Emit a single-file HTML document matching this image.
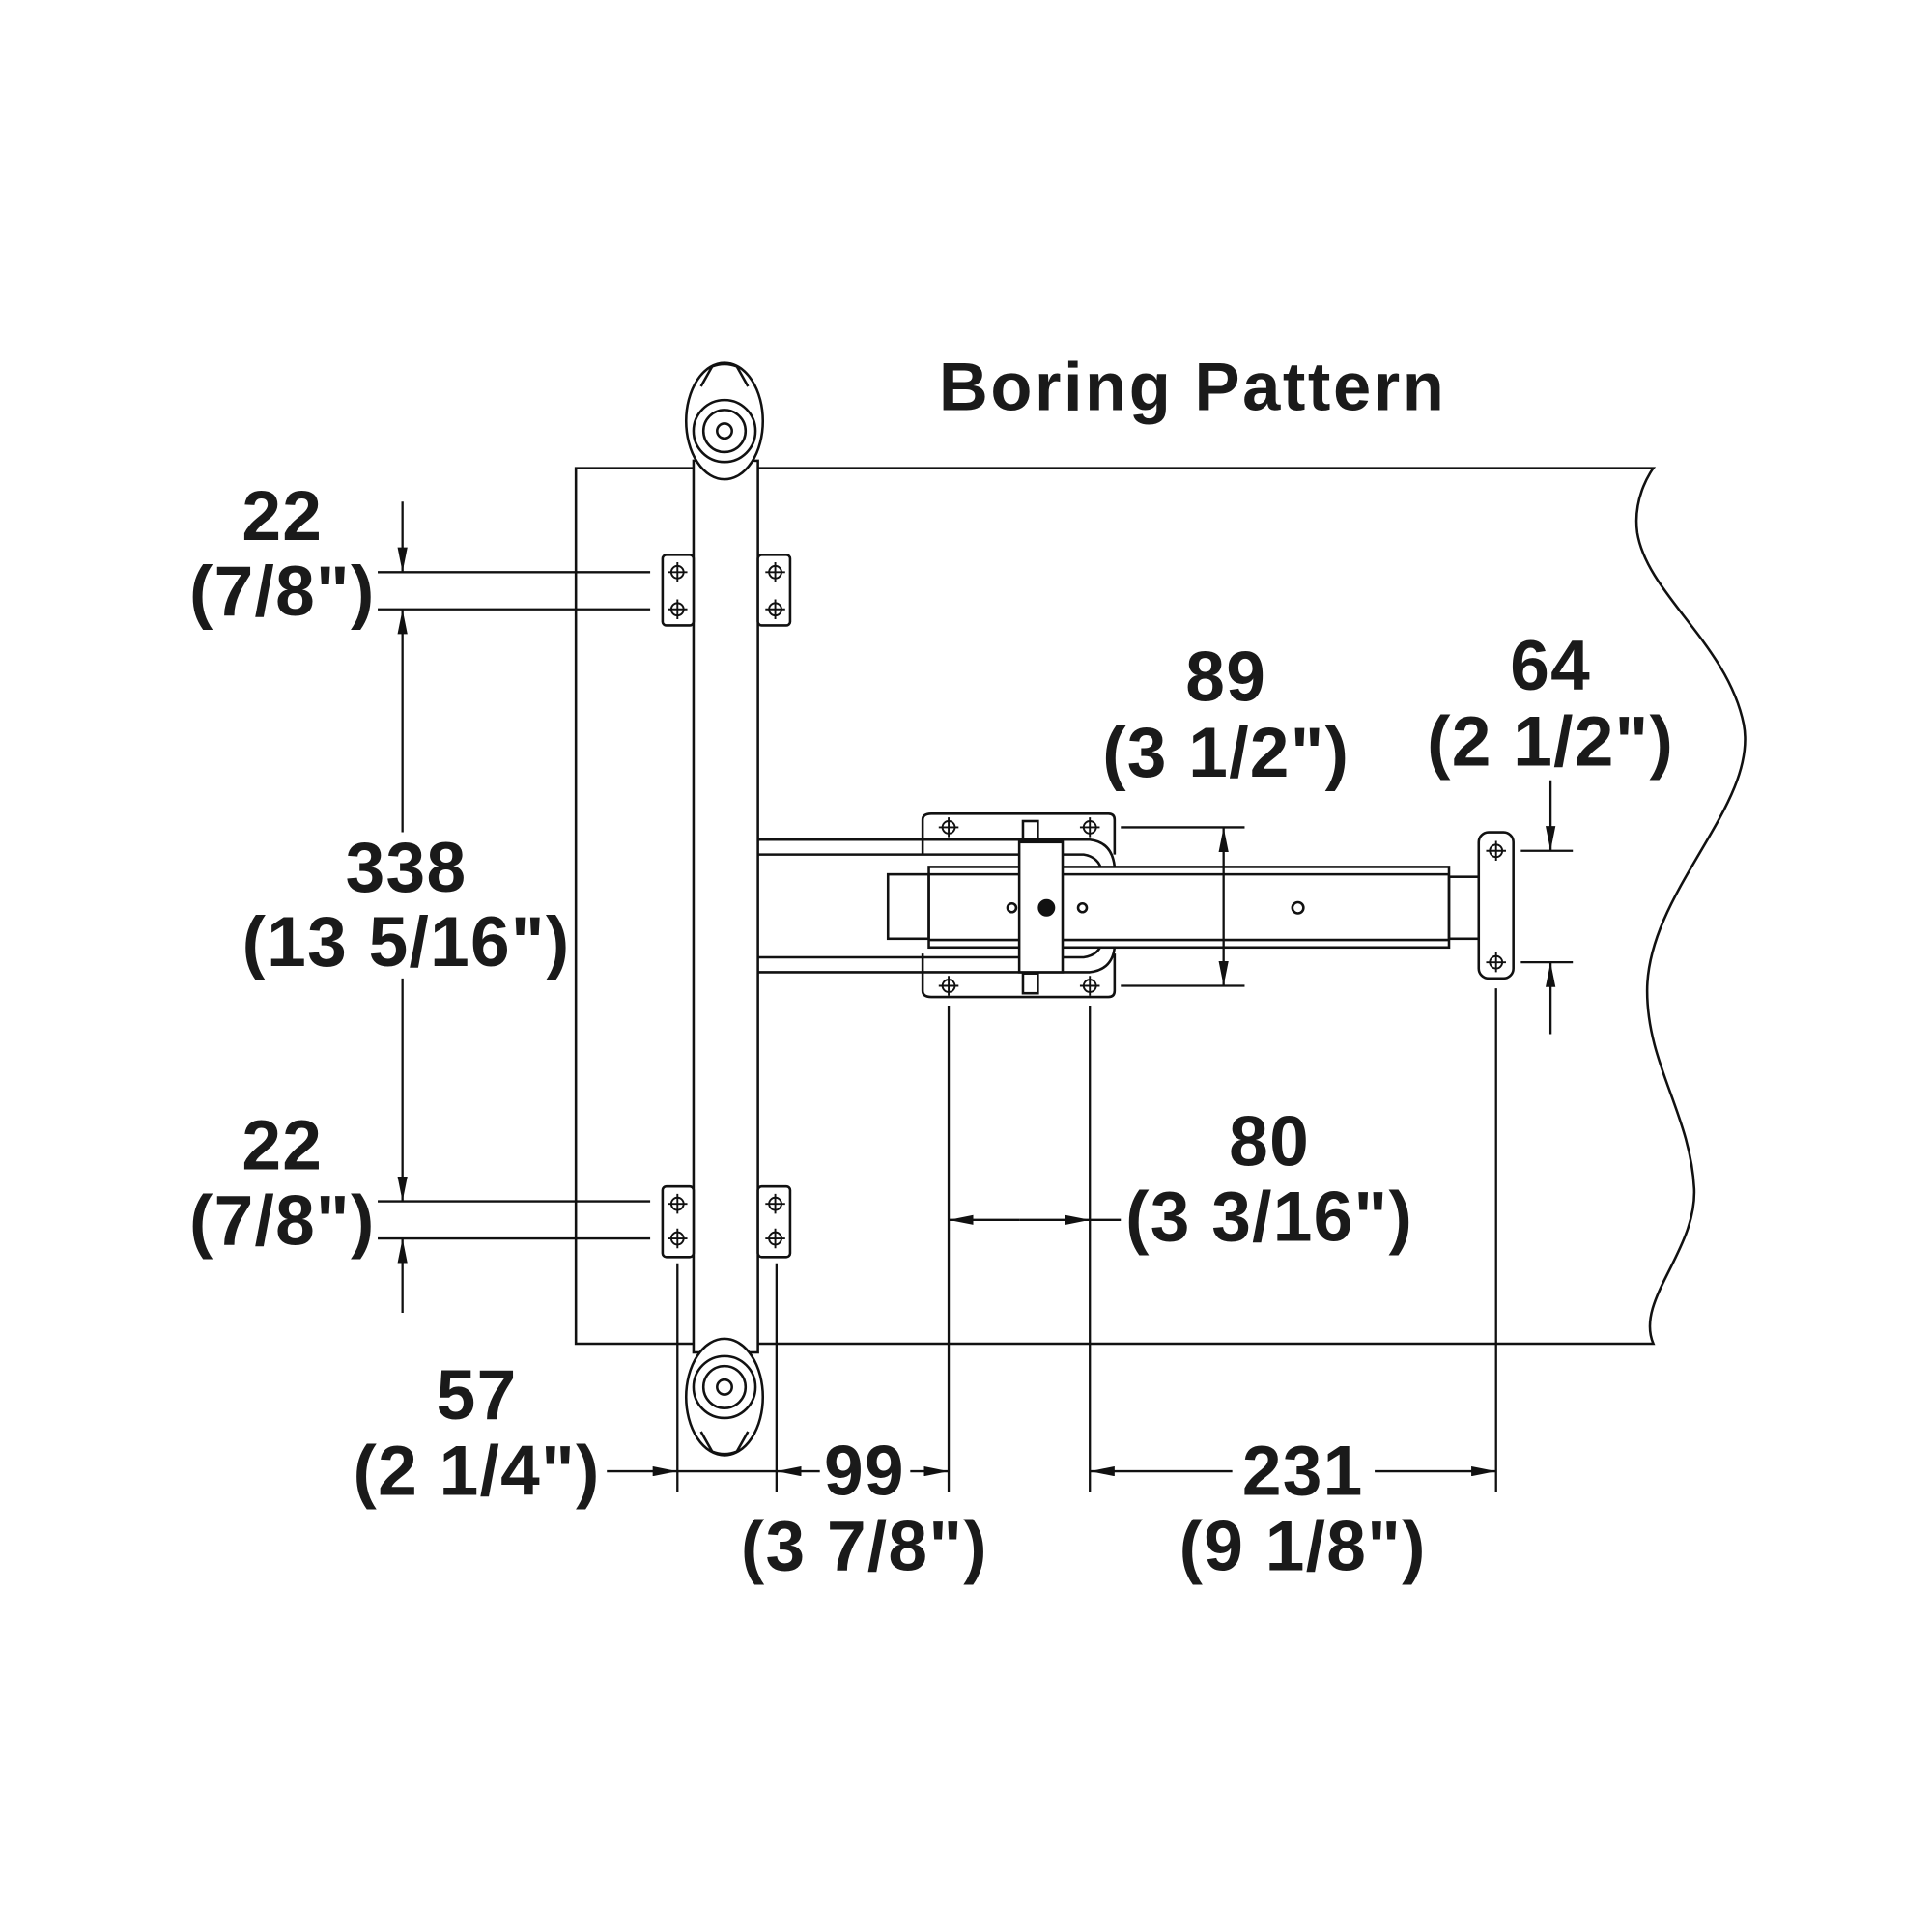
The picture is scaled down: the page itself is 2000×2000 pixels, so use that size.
<!DOCTYPE html>
<html><head><style>html,body{margin:0;background:#fff}svg{display:block}</style></head>
<body>
<svg width="2000" height="2000" viewBox="0 0 1560 1560" xmlns="http://www.w3.org/2000/svg">
<defs>
<marker id="a" viewBox="0 0 20 8" refX="20" refY="4" markerWidth="20" markerHeight="8" markerUnits="userSpaceOnUse" orient="auto"><path d="M0,0 L20,4 L0,8 Z" fill="#111"/></marker>
<g id="h"><circle cx="0" cy="0" r="5"/><path d="M-8,0H8M0,-8V8"/></g>
</defs>
<g fill="none" stroke="#111" stroke-width="2">
<!-- panel -->
<path d="M585,378 H465 V1085 H1335 C1320,1050 1370,1010 1368,960 C1365,900 1330,860 1330,800 C1330,720 1420,650 1408,585 C1395,520 1330,480 1322,430 C1318,400 1335,378 1335,378 H612"/>
<!-- rail -->
<rect x="560" y="372" width="52" height="720" fill="#fff"/>
<!-- wheels -->
<g fill="#fff">
<ellipse cx="585" cy="340" rx="31" ry="47"/>
<path d="M566,312 L575,296 Q585,292 595,296 L604,312"/>
<circle cx="585" cy="348" r="25"/><circle cx="585" cy="348" r="17"/><circle cx="585" cy="348" r="6"/>
<ellipse cx="585" cy="1128" rx="31" ry="47"/>
<path d="M566,1156 L575,1172 Q585,1176 595,1172 L604,1156"/>
<circle cx="585" cy="1120" r="25"/><circle cx="585" cy="1120" r="17"/><circle cx="585" cy="1120" r="6"/>
</g>
<!-- brackets -->
<g fill="#fff">
<rect x="535" y="448" width="25" height="57" rx="3"/><rect x="612" y="448" width="26" height="57" rx="3"/>
<rect x="535" y="958" width="25" height="57" rx="3"/><rect x="612" y="958" width="26" height="57" rx="3"/>
</g>
<!-- arms -->
<path d="M612,678 H880 Q898,680 900,700 M612,690 H875 Q888,692 890,705 M612,785 H880 Q898,783 900,765 M612,773 H875 Q888,771 890,760"/>
<!-- mounting plate -->
<path d="M752,657 H895 Q900,657 900,662 V690 M900,770 V800 Q900,805 895,805 H752 Q745,805 745,800 V770 M745,690 V662 Q745,657 752,657"/>
<!-- slide body -->
<rect x="750" y="700" width="420" height="65" fill="#fff"/>
<line x1="750" y1="706" x2="1170" y2="706"/><line x1="750" y1="759" x2="1170" y2="759"/>
<rect x="717" y="706" width="33" height="52"/>
<rect x="1170" y="708" width="27" height="50"/>
<rect x="823" y="680" width="35" height="105" fill="#fff"/>
<rect x="826" y="663" width="12" height="16"/><rect x="826" y="786" width="12" height="16"/>
<circle cx="845" cy="733" r="6" fill="#111"/><circle cx="817" cy="733" r="3.5"/><circle cx="874" cy="733" r="3.5"/><circle cx="1048" cy="733" r="4.5"/>
<!-- small plate -->
<rect x="1194" y="672" width="28" height="118" rx="8" fill="#fff"/>
<!-- dims -->
<g stroke-width="1.8">
<line x1="305" y1="462" x2="525" y2="462"/><line x1="305" y1="492" x2="525" y2="492"/>
<line x1="305" y1="970" x2="525" y2="970"/><line x1="305" y1="1000" x2="525" y2="1000"/>
<line x1="325" y1="405" x2="325" y2="462" marker-end="url(#a)"/>
<line x1="325" y1="672" x2="325" y2="492" marker-end="url(#a)"/>
<line x1="325" y1="790" x2="325" y2="970" marker-end="url(#a)"/>
<line x1="325" y1="1060" x2="325" y2="1000" marker-end="url(#a)"/>
<line x1="905" y1="668" x2="1005" y2="668"/><line x1="905" y1="796" x2="1005" y2="796"/>
<line x1="988" y1="732" x2="988" y2="668" marker-end="url(#a)"/><line x1="988" y1="732" x2="988" y2="796" marker-end="url(#a)"/>
<line x1="1228" y1="687" x2="1270" y2="687"/><line x1="1228" y1="777" x2="1270" y2="777"/>
<line x1="1252" y1="630" x2="1252" y2="687" marker-end="url(#a)"/><line x1="1252" y1="835" x2="1252" y2="777" marker-end="url(#a)"/>
<line x1="766" y1="812" x2="766" y2="1205"/><line x1="880" y1="812" x2="880" y2="1205"/>
<line x1="1208" y1="798" x2="1208" y2="1205"/>
<line x1="547" y1="1020" x2="547" y2="1205"/><line x1="627" y1="1020" x2="627" y2="1205"/>
<line x1="823" y1="985" x2="766" y2="985" marker-end="url(#a)"/><line x1="823" y1="985" x2="880" y2="985" marker-end="url(#a)"/><line x1="880" y1="985" x2="905" y2="985"/>
<line x1="490" y1="1188" x2="547" y2="1188" marker-end="url(#a)"/><line x1="547" y1="1188" x2="627" y2="1188"/>
<line x1="662" y1="1188" x2="627" y2="1188" marker-end="url(#a)"/><line x1="735" y1="1188" x2="766" y2="1188" marker-end="url(#a)"/>
<line x1="995" y1="1188" x2="880" y2="1188" marker-end="url(#a)"/><line x1="1110" y1="1188" x2="1208" y2="1188" marker-end="url(#a)"/>
</g>
</g>
<g stroke="#111" stroke-width="1.5" fill="none">
<use href="#h" x="766" y="668"/><use href="#h" x="880" y="668"/><use href="#h" x="766" y="796"/><use href="#h" x="880" y="796"/>
<use href="#h" x="1208" y="687"/><use href="#h" x="1208" y="777"/>
<use href="#h" x="547" y="462"/><use href="#h" x="547" y="492"/><use href="#h" x="626" y="462"/><use href="#h" x="626" y="492"/>
<use href="#h" x="547" y="972"/><use href="#h" x="547" y="1000"/><use href="#h" x="626" y="972"/><use href="#h" x="626" y="1000"/>
</g>
<g font-family="Liberation Sans, sans-serif" font-weight="bold" fill="#1a1a1a" text-anchor="middle" font-size="57" letter-spacing="1">
<text x="963" y="331" font-size="55" letter-spacing="2">Boring Pattern</text>
<text x="228" y="436">22</text><text x="228" y="497">(7/8")</text>
<text x="328" y="720">338</text><text x="328" y="780">(13 5/16")</text>
<text x="228" y="944">22</text><text x="228" y="1005">(7/8")</text>
<text x="990" y="566">89</text><text x="990" y="627">(3 1/2")</text>
<text x="1252" y="557">64</text><text x="1252" y="618">(2 1/2")</text>
<text x="1025" y="941">80</text><text x="1025" y="1002">(3 3/16")</text>
<text x="385" y="1146">57</text><text x="385" y="1207">(2 1/4")</text>
<text x="698" y="1207">99</text><text x="698" y="1268">(3 7/8")</text>
<text x="1052" y="1207">231</text><text x="1052" y="1268">(9 1/8")</text>
</g>
</svg>
</body></html>
